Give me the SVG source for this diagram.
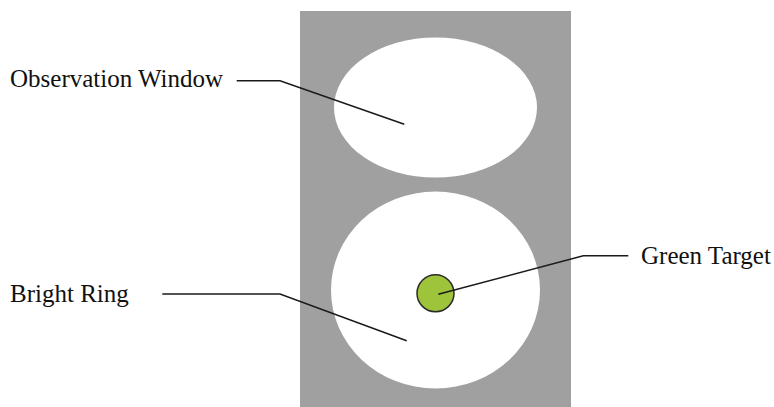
<svg xmlns="http://www.w3.org/2000/svg" width="774" height="407" viewBox="0 0 774 407">
<style>
.lbl{font-family:"Liberation Serif","Times New Roman",serif;font-size:25px;fill:#111}
.ln{fill:none;stroke:#1a1a1a;stroke-width:1.5}
</style>
<rect width="774" height="407" fill="#fff"/>
<g id="panel">
<rect x="300" y="11" width="271" height="396" fill="#a0a0a0"/>
</g>
<g id="observation-window">
<ellipse cx="435.5" cy="107.5" rx="101.5" ry="70" fill="#fff"/>
<text class="lbl" x="10" y="87">Observation Window</text>
</g>
<g id="bright-ring">
<ellipse cx="435.5" cy="290" rx="104.5" ry="98.5" fill="#fff"/>
<text class="lbl" x="10" y="301.5">Bright Ring</text>
</g>
<g id="green-target">
<circle cx="435.5" cy="293.3" r="18.5" fill="#9dc43a" stroke="#2a2a2a" stroke-width="1.5"/>
<text class="lbl" x="641" y="264">Green Target</text>
</g>
<g id="connectors">
<polyline class="ln" points="236.7,80.7 280,80.7 404.3,124.3"/>
<polyline class="ln" points="162.3,294 280,294 406.7,340.7"/>
<polyline class="ln" points="438.3,294.3 583.3,255.7 628.3,255.7"/>
</g>
</svg>
